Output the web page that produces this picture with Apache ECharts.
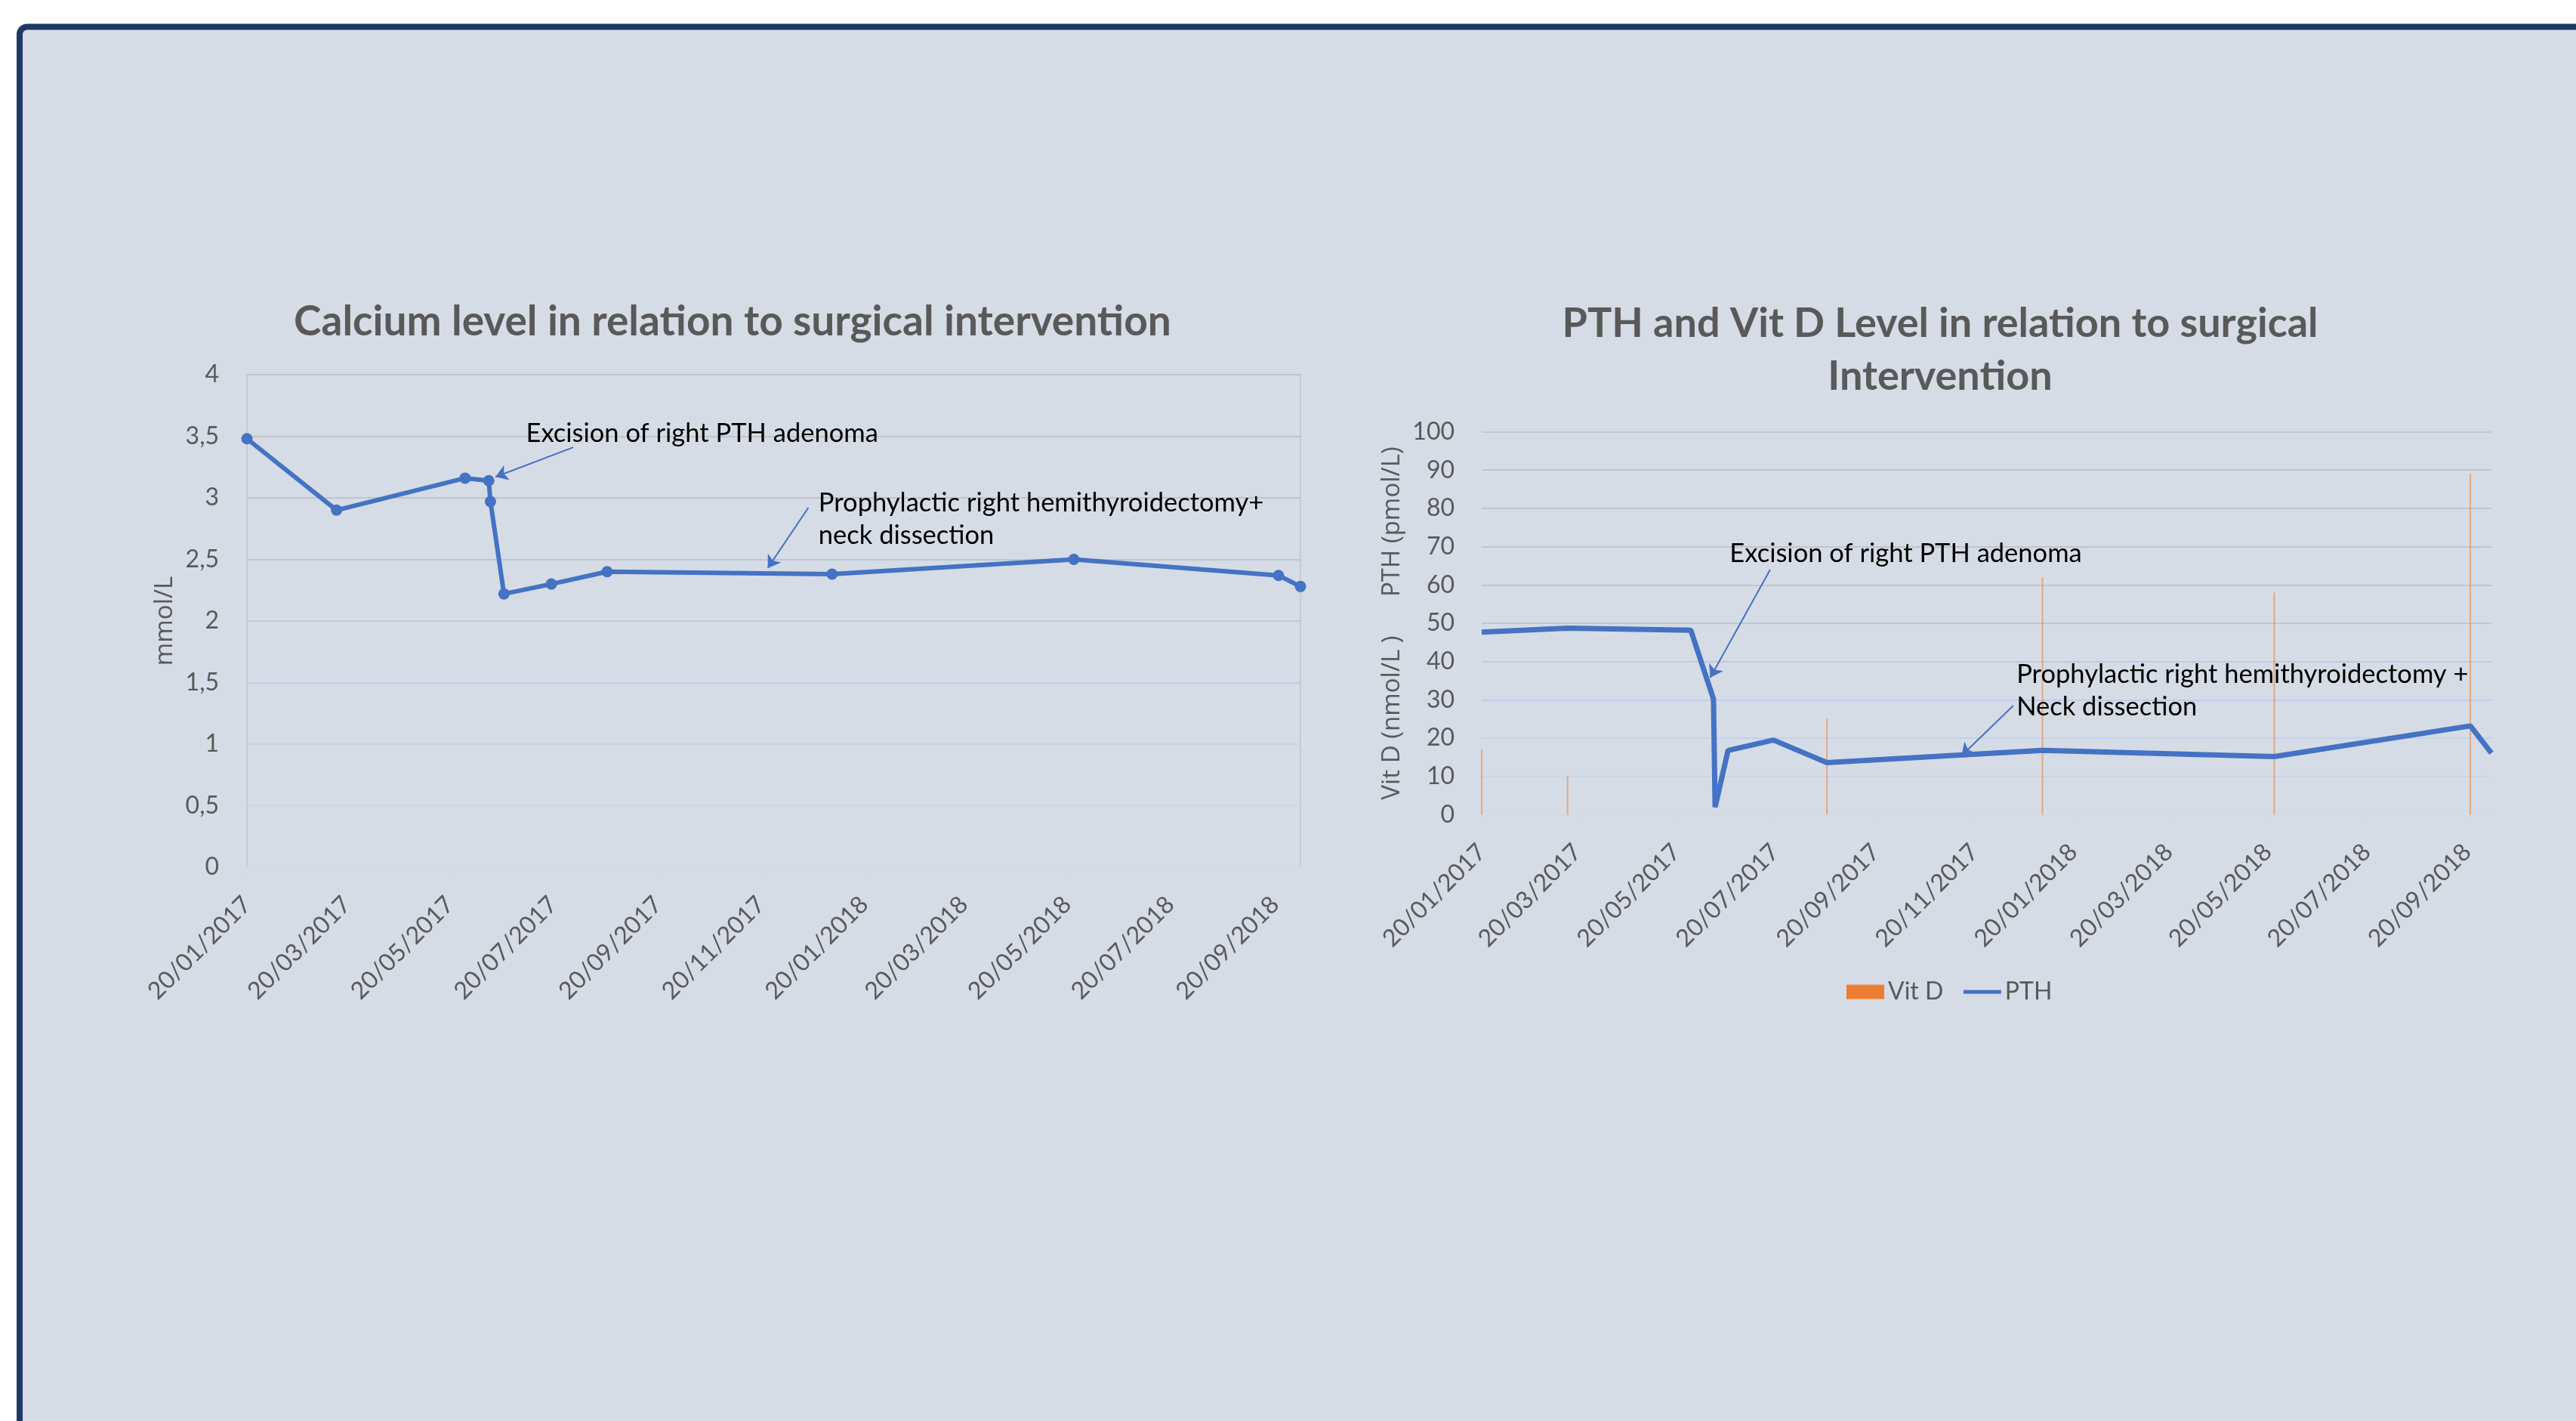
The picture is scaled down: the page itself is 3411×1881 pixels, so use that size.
<!DOCTYPE html>
<html>
<head>
<meta charset="utf-8">
<script src="https://cdn.jsdelivr.net/npm/echarts@6/dist/echarts.min.js"></script>
<style>
html,body{margin:0;padding:0;background:#ffffff;}
#c{width:3411px;height:1881px;}
</style>
</head>
<body>
<div id="c"></div>
<script>
// ---- data ----
const visitDates = ['2017-01-20','2017-03-14','2017-05-29','2017-06-12','2017-06-13','2017-06-21',
                    '2017-07-19','2017-08-21','2018-01-01','2018-05-24','2018-09-22','2018-10-05'];
const calcium = [3.48, 2.90, 3.16, 3.14, 2.97, 2.22, 2.30, 2.40, 2.38, 2.50, 2.37, 2.28];
const pth     = [47.7, 48.7, 48.2, 30.2, 2.0, 16.8, 19.5, 13.6, 16.8, 15.2, 23.2, 16.1];
const vitD    = [17, 10, null, null, null, null, null, 25, 62, 58, 89, null];
const tickDates = ['2017-01-20','2017-03-20','2017-05-20','2017-07-20','2017-09-20','2017-11-20',
                   '2018-01-20','2018-03-20','2018-05-20','2018-07-20','2018-09-20'];

const titleCalcium = 'Calcium level in relation to surgical intervention';
const titlePth = 'PTH and Vit D Level in relation to surgical\nIntervention';
const noteExcision = 'Excision of right PTH adenoma';
const noteProphCa = 'Prophylactic right hemithyroidectomy+\nneck dissection';
const noteProphPth = 'Prophylactic right hemithyroidectomy +\nNeck dissection';

// annotation anchors [date, value]
const caExcisionText = ['2017-07-04', 3.52];
const caExcisionArrow = [['2017-08-01', 3.41], ['2017-06-16', 3.17]];
const caProphText = ['2017-12-24', 2.957];
const caProphArrow = [['2017-12-18', 2.92], ['2017-11-24', 2.43]];
const pthExcisionText = ['2017-06-22', 68.2];
const pthExcisionArrow = [['2017-07-17', 64.0], ['2017-06-10', 35.8]];
const pthProphText = ['2017-12-16', 36.7];
const pthProphArrow = [['2017-12-14', 28.5], ['2017-11-12', 15.4]];

// ---- helpers ----
function t(s){ const p = s.split('-').map(Number); return new Date(p[0], p[1]-1, p[2]).getTime(); }
function fmtDate(v){ const d = new Date(v); const p = n => (n<10?'0':'')+n; return p(d.getDate())+'/'+p(d.getMonth()+1)+'/'+d.getFullYear(); }
const tickTimes = tickDates.map(t);
const calciumData = visitDates.map((d,i)=>[t(d), calcium[i]]);
const pthData = visitDates.map((d,i)=>[t(d), pth[i]]);
const vitDData = visitDates.map((d,i)=>[t(d), vitD[i]]).filter(p=>p[1]!==null);

const BLUE = '#4472C4', GREY = '#595959', FONT = 'Lato';

function xAxisFor(gi){
  return {
    type:'value', gridIndex:gi, min:'dataMin', max:'dataMax', scale:true,
    axisLine:{show:true, onZero:false, lineStyle:{color:'#D9D9D9', width:1.5}},
    axisTick:{show:true, customValues:tickTimes, length:10, lineStyle:{color:'#D9D9D9', width:1.5}},
    axisLabel:{customValues:tickTimes, rotate:45, margin:44, color:GREY, fontFamily:FONT, fontSize:32,
               formatter: v => fmtDate(v), hideOverlap:false},
    splitLine:{show:false}
  };
}
function arrowLine(a){
  return [{coord:[t(a[0][0]), a[0][1]]}, {coord:[t(a[1][0]), a[1][1]]}];
}

const chart = echarts.init(document.getElementById('c'), null, {renderer:'canvas'});

const option = {
  animation:false,
  backgroundColor:'transparent',
  title:[
    {text:titleCalcium, left:970, top:399, textAlign:'center', padding:0,
     textStyle:{fontFamily:FONT, fontWeight:'bold', fontSize:55, color:GREY}},
    {text:titlePth, left:2569, top:394, textAlign:'center', padding:0,
     textStyle:{fontFamily:FONT, fontWeight:'bold', fontSize:54, color:GREY, lineHeight:70}}
  ],
  legend:{
    left:2440, top:1292, itemWidth:50, itemHeight:19, itemGap:24,
    textStyle:{fontFamily:FONT, fontSize:32, color:GREY},
    data:[{name:'Vit D', icon:'rect', itemStyle:{color:'#ED7D31', opacity:1}},
          {name:'PTH', itemStyle:{color:'rgba(0,0,0,0)', borderColor:'rgba(0,0,0,0)', borderWidth:0},
           lineStyle:{color:BLUE, width:5}}]
  },
  grid:[
    {left:327, top:496, width:1395, height:652, show:true, borderColor:'#BFC4CC', borderWidth:1.5, backgroundColor:'transparent'},
    {left:1962, top:571.5, width:1337, height:507}
  ],
  xAxis:[xAxisFor(0), xAxisFor(1)],
  yAxis:[
    {type:'value', gridIndex:0, min:0, max:4, interval:0.5,
     name:'mmol/L', nameLocation:'middle', nameGap:92,
     nameTextStyle:{fontFamily:'Open Sans', fontSize:33, color:GREY},
     axisLine:{show:false}, axisTick:{show:false},
     axisLabel:{margin:37, color:GREY, fontFamily:FONT, fontSize:32, formatter:v=>String(v).replace('.', ',')},
     splitLine:{lineStyle:{width:1.5, color:['#D0DAEC','#C9D6EE','#BFCFEC','#B7C9E8','#B3C3E0','#B5BFD2','#B8BDC8','#BBBDC2','#BFBFBF']}}},
    {type:'value', gridIndex:1, min:0, max:100, interval:10,
     name:'Vit D (nmol/L )      PTH (pmol/L)', nameLocation:'middle', nameGap:102,
     nameTextStyle:{fontFamily:'Open Sans', fontSize:33, color:GREY},
     axisLine:{show:false}, axisTick:{show:false},
     axisLabel:{margin:36, color:GREY, fontFamily:FONT, fontSize:32},
     splitLine:{lineStyle:{width:1.5, color:['#D0DAEC','#C6D5EE','#BDCEEC','#B6C8E8','#B3C3E2','#B3BFD6','#B5BDCC','#B7BCC6','#BABCC1','#BCBDBF','#BFBFBF']}}}
  ],
  series:[
    {name:'Calcium', type:'line', xAxisIndex:0, yAxisIndex:0, data:calciumData,
     symbol:'circle', symbolSize:15, showSymbol:true,
     lineStyle:{color:BLUE, width:6}, itemStyle:{color:BLUE},
     markLine:{silent:true, symbol:['none','arrow'], symbolSize:16,
       lineStyle:{color:BLUE, width:2, type:'solid'}, label:{show:false},
       data:[arrowLine(caExcisionArrow), arrowLine(caProphArrow)]}},
    {name:'Vit D', type:'bar', xAxisIndex:1, yAxisIndex:1, data:vitDData, barWidth:2,
     itemStyle:{color:'#ED7D31', opacity:0.55}},
    {name:'PTH', type:'line', xAxisIndex:1, yAxisIndex:1, data:pthData,
     symbol:'none', showSymbol:false,
     lineStyle:{color:BLUE, width:7}, itemStyle:{color:BLUE},
     markLine:{silent:true, symbol:['none','arrow'], symbolSize:16,
       lineStyle:{color:BLUE, width:2, type:'solid'}, label:{show:false},
       data:[arrowLine(pthExcisionArrow), arrowLine(pthProphArrow)]}}
  ]
};
chart.setOption(option);

function px(gi, a){ return chart.convertToPixel({gridIndex:gi}, [t(a[0]), a[1]]); }
function note(id, gi, anchor, text){
  const p = px(gi, anchor);
  return {type:'text', id:id, x:p[0], y:p[1]-21.5, z:50, silent:true,
          style:{text:text, fill:'#000000', font:'34.5px Lato', textAlign:'left', textVerticalAlign:'top',
                 lineHeight:43}};
}
chart.setOption({
  graphic:{elements:[
    {type:'rect', id:'panel', z:-100, silent:true,
     shape:{x:26, y:35.5, width:3420, height:1900, r:10},
     style:{fill:'#D6DCE5', stroke:'#1F3864', lineWidth:8}},
    note('n1', 0, caExcisionText, noteExcision),
    note('n2', 0, caProphText, noteProphCa),
    note('n3', 1, pthExcisionText, noteExcision),
    note('n4', 1, pthProphText, noteProphPth)
  ]}
});
</script>
</body>
</html>
